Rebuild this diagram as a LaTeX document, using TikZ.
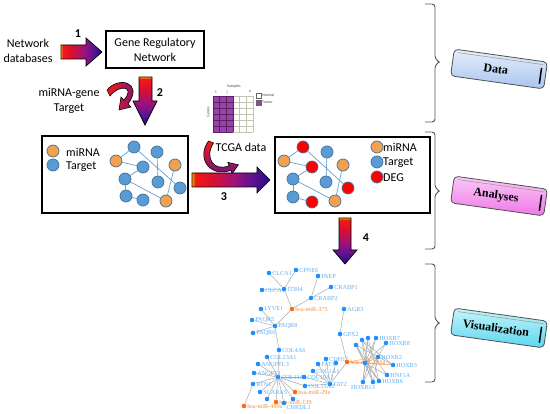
\documentclass[tikz,border=0pt]{standalone}
\usepackage{fontspec}
\setmainfont{Carlito}
\newfontfamily\tnr{Liberation Serif}
\usetikzlibrary{calc,backgrounds}

\definecolor{cblue}{HTML}{5B9BD5}
\definecolor{corange}{HTML}{F5A04C}
\definecolor{cborder}{HTML}{41719C}
\definecolor{cred}{HTML}{FF0000}
\definecolor{edgeA}{HTML}{6A9FD8}
\definecolor{purp}{HTML}{9E3FAE}
\definecolor{gridc}{HTML}{C4C4B4}
\definecolor{vblue}{HTML}{1E8FFF}
\definecolor{vorange}{HTML}{FF6A10}
\definecolor{vlab}{HTML}{62B0F4}
\definecolor{vlabo}{HTML}{F49040}
\definecolor{vedgec}{HTML}{AAAAAA}
\definecolor{bracec}{HTML}{555555}
\definecolor{tagb}{HTML}{505050}
\definecolor{dataT}{HTML}{E6EFFB}
\definecolor{dataB}{HTML}{A8C4EE}
\definecolor{anaT}{HTML}{FBC8F7}
\definecolor{anaB}{HTML}{EE78E6}
\definecolor{visT}{HTML}{C4F5FC}
\definecolor{visB}{HTML}{5CD6EE}
\definecolor{g0}{HTML}{FFA010}
\definecolor{g1}{HTML}{F41A14}
\definecolor{g2}{HTML}{D8102E}
\definecolor{g3}{HTML}{A0127A}
\definecolor{g4}{HTML}{601492}
\definecolor{g5}{HTML}{260A80}
\pgfdeclarehorizontalshading{arrowH}{100bp}{color(0bp)=(g0); color(25bp)=(g0); color(27bp)=(g1); color(38bp)=(g2); color(52bp)=(g3); color(63bp)=(g4); color(75bp)=(g5); color(100bp)=(g5)}

\tikzset{
 txt/.style={font=\fontsize{12}{15}\selectfont, inner sep=0pt},
 numb/.style={font=\bfseries\fontsize{12}{14}\selectfont, inner sep=0pt},
 box/.style={draw=black, line width=1.2pt, inner sep=0pt},
 netnode/.style={circle, draw=cborder, line width=0.7pt, minimum size=12pt, inner sep=0pt},
 mir/.style={netnode, fill=corange},
 tgt/.style={netnode, fill=cblue},
 deg/.style={netnode, fill=cred},
 nedge/.style={draw=edgeA, line width=0.7pt},
 gshape/.style={shading=arrowH, draw=black, line width=0.7pt},
 vdot/.style={circle, fill=vblue, inner sep=0pt, minimum size=4.6pt},
 vodot/.style={vdot, fill=vorange},
 vl/.style={font=\tnr\fontsize{6.2}{6.2}\selectfont, text=vlab, inner sep=0.6pt},
 vlo/.style={vl, text=vlabo},
 vedge/.style={draw=vedgec, line width=0.5pt},
 voedge/.style={draw=vorange!55, line width=0.6pt},
 brc/.style={draw=bracec, line width=0.9pt, rounded corners=3pt},
 tag/.style={font=\tnr\bfseries\fontsize{12}{14}\selectfont, text=black, inner sep=0pt},
 tiny/.style={font=\fontsize{4}{4}\selectfont, inner sep=0pt, text=black!70},
}
\newcommand\visn[4]{\node[vdot,label={[vl]right:#4}] (#1) at (#2,#3) {};}
\newcommand\viso[4]{\node[vodot,label={[vlo]right:#4}] (#1) at (#2,#3) {};}

\begin{document}
\begin{tikzpicture}[x=1pt,y=-1pt]
\useasboundingbox (0,0) rectangle (550,414);
\begin{scope}[on background layer]
\fill[white] (0,0) rectangle (550,414);
\end{scope}

% ---------- top row ----------
\node[txt, align=center] (netdb) at (28,51) {Network\\databases};
\node[numb] (num1) at (78,34) {1};
\shadedraw[gshape] (61,45) -- (86,45) -- (86,38) -- (102,52) -- (86,66) -- (86,59) -- (61,59) -- cycle;
\node[box, minimum width=98pt, minimum height=37pt] (grn) at (155,49.5) {};
\node[txt, align=center] (grntext) at (grn.center) {Gene Regulatory\\Network};

% arrow 2 and miRNA-gene target
\shadedraw[gshape, shading angle=-90] (139,77) -- (152,77) -- (152,101) -- (157,101) -- (145,125) -- (133,101) -- (139,101) -- cycle;
\node[numb] (num2) at (160,93) {2};
\node[txt, align=center] (mgt) at (69,101) {miRNA-gene\\Target};
\shadedraw[left color=g1, right color=g4, draw=black, line width=0.6pt]
  (107,90) .. controls (118,76) and (144,82) .. (128,104) -- (131,107) -- (119,110) -- (121,97) -- (124,100)
  .. controls (136,86) and (119,84) .. (110,96) -- cycle;

% ---------- box A ----------
\node[box, minimum width=146pt, minimum height=77pt] (boxA) at (115,174.5) {};
\node[mir] (la1) at (53,151) {};
\node[tgt] (la2) at (53,165) {};
\node[txt, anchor=west] (lat1) at (66,152) {miRNA};
\node[txt, anchor=west] (lat2) at (66,167) {Target};
\node[tgt] (a1) at (134,147) {};
\node[tgt] (a2) at (157,152) {};
\node[mir] (a3) at (116,161) {};
\node[tgt] (a4) at (143,167) {};
\node[mir] (a5) at (175,165) {};
\node[tgt] (a6) at (125,179) {};
\node[tgt] (a7) at (158,182) {};
\node[tgt] (a8) at (180,188) {};
\node[tgt] (a9) at (126,196) {};
\node[tgt] (a10) at (143,200) {};
\node[mir] (a11) at (166,201) {};

% ---------- TCGA matrix ----------
\fill[purp] (213,96) rectangle (233,132);
\foreach \i in {3,...,6} \draw[gridc, line width=0.4pt] ({213+\i*20/3},96) -- ({213+\i*20/3},132);
\foreach \j in {0,...,6} \draw[gridc, line width=0.4pt] (233,{96+\j*6}) -- (253,{96+\j*6});
\foreach \i in {0,...,3} \draw[purp!55!black, line width=0.4pt] ({213+\i*20/3},96) -- ({213+\i*20/3},132);
\foreach \j in {0,...,6} \draw[purp!55!black, line width=0.4pt] (213,{96+\j*6}) -- (233,{96+\j*6});
\node[tiny] (samp) at (234,86) {Samples};
\node[tiny] (c1) at (216,92) {1};
\node[tiny] (cj) at (227,92) {j};
\node[tiny] (cn) at (250,92) {n};
\node[tiny, rotate=90] (genes) at (208,112) {Genes};
\draw[black!60, line width=0.3pt, fill=white] (256,93) rectangle (261,98);
\node[tiny, anchor=west] (lnorm) at (262,95.5) {Normal};
\draw[black!60, line width=0.3pt, fill=purp] (256,100) rectangle (261,105);
\node[tiny, anchor=west] (ltum) at (262,102.5) {Tumor};

\node[txt] (tcga) at (241,147) {TCGA data};
\shadedraw[top color=g1, bottom color=g4, draw=black, line width=0.6pt]
  (208.5,141) .. controls (196,158) and (210,178) .. (230.9,170.3) -- (232.2,173.6) -- (238.4,164.8) -- (227.8,162.4) -- (229.1,165.7)
  .. controls (214,172) and (204,158) .. (213.5,143) -- cycle;

% arrow 3
\shadedraw[gshape] (192,173) -- (257,173) -- (257,167) -- (270,180) -- (257,193) -- (257,187) -- (192,187) -- cycle;
\node[numb] (num3) at (224,197) {3};

% ---------- box B ----------
\node[box, minimum width=155pt, minimum height=76pt] (boxB) at (352.5,175) {};
\node[mir] (lb1) at (377,147) {};
\node[tgt] (lb2) at (377,162) {};
\node[deg] (lb3) at (377,177) {};
\node[txt, anchor=west] (lbt1) at (383,147) {miRNA};
\node[txt, anchor=west] (lbt2) at (383,163) {Target};
\node[txt, anchor=west] (lbt3) at (383,178) {DEG};
\node[deg] (b1) at (303,147) {};
\node[tgt] (b2) at (327,152) {};
\node[mir] (b3) at (284,161) {};
\node[deg] (b4) at (312,167) {};
\node[mir] (b5) at (343,165) {};
\node[tgt] (b6) at (293,179) {};
\node[tgt] (b7) at (326,182) {};
\node[deg] (b8) at (348,188) {};
\node[tgt] (b9) at (293,197) {};
\node[deg] (b10) at (312,202) {};
\node[mir] (b11) at (335,201) {};

\begin{scope}[on background layer]
\foreach \p in {a,b}{
  \draw[nedge] (\p3) -- (\p1);
  \draw[nedge] (\p3) -- (\p4);
  \draw[nedge] (\p1) -- (\p8);
  \draw[nedge] (\p4) -- (\p6);
  \draw[nedge] (\p6) -- (\p9);
  \draw[nedge] (\p9) -- (\p10);
  \draw[nedge] (\p2) -- (\p7);
  \draw[nedge] (\p5) -- (\p11);
  \draw[nedge] (\p6) -- (\p11);
}
\end{scope}

% arrow 4
\shadedraw[gshape, shading angle=-90] (339,218) -- (351,218) -- (351,250) -- (357,250) -- (345,264) -- (333,250) -- (339,250) -- cycle;
\node[numb] (num4) at (366,238) {4};

% ---------- network visualization ----------
\visn{v1}{269}{273}{CLCA1}
\visn{v2}{296}{270}{CPNE6}
\visn{v3}{318}{276}{PAEP}
\visn{v4}{331}{287}{CRABP1}
\visn{v5}{262}{290}{CLCA4}
\visn{v6}{284}{289}{ITIH4}
\visn{v7}{311}{298}{CRABP2}
\viso{m1}{292}{309}{hsa-miR-375}
\visn{v8}{261}{309}{LYVE1}
\visn{v9}{344}{309}{AGR3}
\visn{v10}{252}{320}{PAQR5}
\visn{v11}{275}{326}{PAQR8}
\visn{v12}{253}{333}{PAQR6}
\visn{v13}{340}{334}{GPX2}
\visn{v14}{279}{350}{COL4A6}
\visn{v15}{267}{357}{COL23A1}
\visn{v16}{258}{364}{ANGPTL3}
\visn{v17}{254}{373}{ANGPT1}
\visn{h1}{278}{377}{COL11A1}
\visn{v18}{253}{384}{RTN1}
\visn{v19}{260}{392}{SCARA5}
\node[vdot] (v20) at (267,399) {};
\viso{m2}{276}{402}{hsa-miR-139}
\node[vdot,label={[vl,anchor=north west]south east:CHRDL1}] (v21) at (284,403) {};
\node[vdot] (v22) at (293,399) {};
\viso{m3}{295}{392}{hsa-miR-29a}
\viso{m4}{244}{406}{hsa-miR-449a}
\visn{v23}{304}{377}{COL10A1}
\visn{v24}{305}{386}{COL11A2}
\visn{v25}{330}{384}{FAT2}
\visn{v26}{313}{371}{COL1A1}
\visn{v27}{318}{364}{FAT1}
\visn{v28}{326}{359}{CDH17}
\node[vdot] (v29) at (336,363) {};
\viso{m5}{347}{362}{hsa-miR-196a}
\node[vdot] (h2) at (365,363) {};
\node[vdot] (v30) at (356,345) {};
\node[vdot] (v31) at (362,340) {};
\node[vdot] (v32) at (368,338) {};
\visn{v33}{376}{338}{HOXB7}
\visn{v34}{386}{343}{HOXB8}
\visn{v35}{378}{357}{HOXB2}
\visn{v36}{393}{365}{HOXB3}
\visn{v37}{387}{375}{HNF1A}
\visn{v38}{379}{381}{HOXB6}
\node[vdot] (v39) at (373,382) {};
\node[vdot,label={[vl]below:HOXB13}] (v40) at (363,382) {};

\begin{scope}[on background layer]
\draw[vedge] (v1) -- (v6);
\draw[vedge] (v2) -- (v6);
\draw[vedge] (v5) -- (v6);
\draw[vedge] (v6) -- (m1);
\draw[vedge] (v3) -- (v7);
\draw[vedge] (v4) -- (v7);
\draw[vedge] (v7) -- (m1);
\draw[vedge] (m1) -- (v11);
\draw[vedge] (v8) -- (v11);
\draw[vedge] (v10) -- (v11);
\draw[vedge] (v12) -- (v11);
\draw[vedge] (v11) -- (v14);
\draw[vedge] (v14) -- (h1);
\foreach \t in {v15,v16,v17,v18,v19,v20,m2,v21,v22,m3,v23,v24}
  \draw[vedge] (h1) -- (\t);
\draw[vedge] (v18) -- (m4);
\foreach \t in {v24,v23,v26,v27,v28,v29,m5}
  \draw[vedge] (v25) -- (\t);
\draw[vedge] (v9) -- (v13);
\draw[vedge] (v13) -- (m5);
\foreach \t in {v30,v31,v32,v33,v34,v35,v36,v37,v38,v39,v40}
  \draw[vedge] (h2) -- (\t);
\draw[vedge] (v30) -- (v39);
\draw[vedge] (v30) -- (v38);
\draw[vedge] (v31) -- (v39);
\draw[vedge] (v31) -- (v37);
\draw[vedge] (v32) -- (v40);
\draw[vedge] (v32) -- (v38);
\draw[vedge] (v33) -- (v40);
\draw[vedge] (v34) -- (v40);
\draw[vedge] (v35) -- (v39);
\draw[vedge] (v30) -- (v36);
\draw[vedge] (v31) -- (v36);
\draw[voedge] (m5) -- (h2);
\draw[voedge] (m5) -- (v35);
\draw[voedge] (m5) -- (v36);
\end{scope}

% ---------- braces ----------
\draw[brc] (425,4) -- (435,4) -- (435,59) -- (440,62) -- (435,65) -- (435,122) -- (425,122);
\draw[brc] (425,132) -- (435,132) -- (435,188) -- (440,191) -- (435,194) -- (435,249) -- (425,249);
\draw[brc] (425,264) -- (435,264) -- (435,320) -- (440,323) -- (435,326) -- (435,382) -- (425,382);

% ---------- tags ----------
\begin{scope}[shift={(499,69)}, rotate=-8]
 \shade[top color=dataT, bottom color=dataB, draw=tagb, line width=0.8pt, rounded corners=4pt] (-47,-13.5) rectangle (47,13.5);
 \draw[tagb!60, line width=0.5pt] (-43,-10.5) -- (43,-10.5);
 \draw[black, line width=1.5pt] (42,-7) -- (42,9);
 \node[tag, transform shape] (data) at (-3,0.5) {Data};
\end{scope}
\begin{scope}[shift={(499,196)}, rotate=-8]
 \shade[top color=anaT, bottom color=anaB, draw=tagb, line width=0.8pt, rounded corners=4pt] (-47,-13.5) rectangle (47,13.5);
 \draw[tagb!60, line width=0.5pt] (-43,-10.5) -- (43,-10.5);
 \draw[black, line width=1.5pt] (42,-7) -- (42,9);
 \node[tag, transform shape] (analyses) at (-3,0.5) {Analyses};
\end{scope}
\begin{scope}[shift={(499,328)}, rotate=-8]
 \shade[top color=visT, bottom color=visB, draw=tagb, line width=0.8pt, rounded corners=4pt] (-47,-13.5) rectangle (47,13.5);
 \draw[tagb!60, line width=0.5pt] (-43,-10.5) -- (43,-10.5);
 \draw[black, line width=1.5pt] (42,-7) -- (42,9);
 \node[tag, transform shape] (visual) at (-3,0.5) {Visualization};
\end{scope}
\end{tikzpicture}
\end{document}
